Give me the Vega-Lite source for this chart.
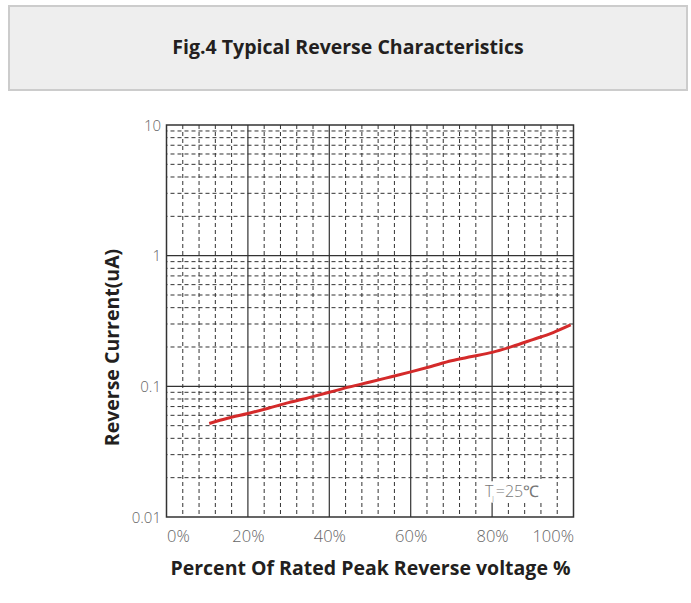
{
  "$schema": "https://vega.github.io/schema/vega-lite/v6.json",
  "background": "white",
  "padding": {"left": 8, "top": 5, "right": 0, "bottom": 20},
  "spacing": 26,
  "center": true,
  "datasets": {
    "curve": [
      {"pct": 10.5, "current": 0.052},
      {"pct": 15, "current": 0.057},
      {"pct": 20, "current": 0.062},
      {"pct": 25, "current": 0.068},
      {"pct": 30, "current": 0.075},
      {"pct": 35, "current": 0.082},
      {"pct": 40, "current": 0.090},
      {"pct": 45, "current": 0.099},
      {"pct": 50, "current": 0.108},
      {"pct": 55, "current": 0.118},
      {"pct": 60, "current": 0.129},
      {"pct": 65, "current": 0.142},
      {"pct": 70, "current": 0.157},
      {"pct": 75, "current": 0.169},
      {"pct": 80, "current": 0.182},
      {"pct": 85, "current": 0.202},
      {"pct": 90, "current": 0.228},
      {"pct": 95, "current": 0.258},
      {"pct": 99.3, "current": 0.295}
    ],
    "xminor": [{"v": 4}, {"v": 8}, {"v": 12}, {"v": 16}, {"v": 24}, {"v": 28}, {"v": 32}, {"v": 36}, {"v": 44}, {"v": 48}, {"v": 52}, {"v": 56}, {"v": 64}, {"v": 68}, {"v": 72}, {"v": 76}, {"v": 84}, {"v": 88}, {"v": 92}, {"v": 96}],
    "xmajor": [{"v": 20}, {"v": 40}, {"v": 60}, {"v": 80}],
    "yminor": [{"v": 0.02}, {"v": 0.03}, {"v": 0.04}, {"v": 0.05}, {"v": 0.06}, {"v": 0.07}, {"v": 0.08}, {"v": 0.09},
               {"v": 0.2}, {"v": 0.3}, {"v": 0.4}, {"v": 0.5}, {"v": 0.6}, {"v": 0.7}, {"v": 0.8}, {"v": 0.9},
               {"v": 2}, {"v": 3}, {"v": 4}, {"v": 5}, {"v": 6}, {"v": 7}, {"v": 8}, {"v": 9}],
    "ymajor": [{"v": 0.1}, {"v": 1}],
    "note": [{"x1": 77.9, "x2": 93.2, "y1": 0.0128, "y2": 0.0188, "tx": 79.3, "sx": 80.2, "rx": 80.9, "ty": 0.0155, "sy": 0.0138}],
    "empty": []
  },
  "vconcat": [
    {
      "width": 678,
      "height": 84,
      "view": {"fill": "#eeeeee", "stroke": "#cccccc", "strokeWidth": 2},
      "data": {"values": [{"t": "Fig.4 Typical Reverse Characteristics"}]},
      "mark": {"type": "text", "font": "Open Sans", "fontWeight": "bold", "fontSize": 19.5, "color": "#231f20", "baseline": "middle", "align": "center"},
      "encoding": {"text": {"field": "t"}}
    },
    {
      "spacing": 0,
      "hconcat": [
        {
          "width": 1,
          "height": 10,
          "view": {"stroke": null, "fill": null},
          "data": {"name": "empty"},
          "mark": {"type": "point"},
          "encoding": {}
        },
        {
          "width": 407,
          "height": 392,
          "view": {"fill": "white", "stroke": "#333333", "strokeWidth": 1.5},
          "layer": [
            {
              "data": {"name": "xminor"},
              "mark": {"type": "rule", "color": "#333333", "strokeWidth": 1, "strokeDash": [4, 3]},
              "encoding": {
                "x": {
                  "field": "v", "type": "quantitative", "scale": {"domain": [0, 100], "nice": false},
                  "axis": {
                    "values": [0, 20, 40, 60, 80, 100],
                    "labelExpr": "datum.value + '%'",
                    "ticks": false, "domain": false, "grid": false,
                    "labelFont": "Open Sans", "labelFontSize": 16.5, "labelColor": "#666666", "labelFontWeight": 300,
                    "labelPadding": 11,
                    "title": "Percent Of Rated Peak Reverse voltage %",
                    "titleFont": "Open Sans", "titleFontSize": 19.5, "titleFontWeight": "bold", "titleColor": "#231f20",
                    "titlePadding": 15
                  }
                }
              }
            },
            {
              "data": {"name": "yminor"},
              "mark": {"type": "rule", "color": "#333333", "strokeWidth": 1, "strokeDash": [4, 3]},
              "encoding": {
                "y": {
                  "field": "v", "type": "quantitative", "scale": {"type": "log", "domain": [0.01, 10], "nice": false},
                  "axis": {
                    "values": [0.01, 0.1, 1, 10],
                    "format": "~g",
                    "ticks": false, "domain": false, "grid": false,
                    "labelFont": "Open Sans", "labelFontSize": 15, "labelColor": "#666666", "labelFontWeight": 300,
                    "labelPadding": 6,
                    "title": "Reverse Current(uA)",
                    "titleFont": "Open Sans", "titleFontSize": 19.5, "titleFontWeight": "bold", "titleColor": "#231f20",
                    "titlePadding": 9,
                    "titleY": 222
                  }
                }
              }
            },
            {
              "data": {"name": "xmajor"},
              "mark": {"type": "rule", "color": "#333333", "strokeWidth": 1.2},
              "encoding": {"x": {"field": "v", "type": "quantitative"}}
            },
            {
              "data": {"name": "ymajor"},
              "mark": {"type": "rule", "color": "#333333", "strokeWidth": 1.2},
              "encoding": {"y": {"field": "v", "type": "quantitative"}}
            },
            {
              "data": {"name": "note"},
              "mark": {"type": "rect", "fill": "white"},
              "encoding": {
                "x": {"field": "x1", "type": "quantitative"},
                "x2": {"field": "x2"},
                "y": {"field": "y1", "type": "quantitative"},
                "y2": {"field": "y2"}
              }
            },
            {
              "data": {"name": "curve"},
              "mark": {"type": "line", "color": "#d42a2a", "strokeWidth": 3, "interpolate": "monotone"},
              "encoding": {
                "x": {"field": "pct", "type": "quantitative"},
                "y": {"field": "current", "type": "quantitative"}
              }
            },
            {
              "data": {"name": "note"},
              "mark": {"type": "text", "font": "Open Sans", "fontSize": 16, "fontWeight": 300, "color": "#777777", "align": "center", "baseline": "middle"},
              "encoding": {
                "x": {"field": "tx", "type": "quantitative"},
                "y": {"field": "ty", "type": "quantitative"},
                "text": {"value": "T"}
              }
            },
            {
              "data": {"name": "note"},
              "mark": {"type": "text", "font": "Open Sans", "fontSize": 8, "fontWeight": 300, "color": "#777777", "align": "center", "baseline": "middle"},
              "encoding": {
                "x": {"field": "sx", "type": "quantitative"},
                "y": {"field": "sy", "type": "quantitative"},
                "text": {"value": "J"}
              }
            },
            {
              "data": {"name": "note"},
              "mark": {"type": "text", "font": "Open Sans", "fontSize": 16, "fontWeight": 300, "color": "#777777", "align": "left", "baseline": "middle"},
              "encoding": {
                "x": {"field": "rx", "type": "quantitative"},
                "y": {"field": "ty", "type": "quantitative"},
                "text": {"value": "=25℃"}
              }
            }
          ]
        },
        {
          "width": 20,
          "height": 10,
          "view": {"stroke": null, "fill": null},
          "data": {"name": "empty"},
          "mark": {"type": "point"},
          "encoding": {}
        }
      ]
    }
  ]
}
